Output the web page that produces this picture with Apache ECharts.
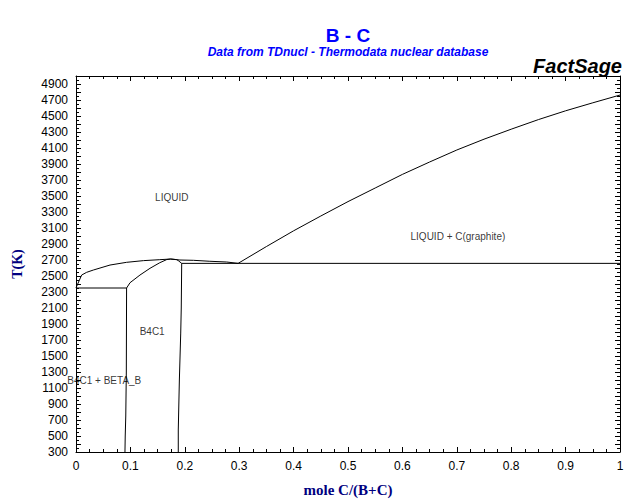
<!DOCTYPE html>
<html>
<head>
<meta charset="utf-8">
<script src="https://cdn.jsdelivr.net/npm/echarts@6/dist/echarts.min.js"></script>
<style>
html,body{margin:0;padding:0;background:#fff;}
#chart{width:640px;height:504px;}
</style>
</head>
<body>
<div id="chart"></div>
<script>
// ---- Data (mole fraction C, T in K) ----
var liquidusB = [[0,2350],[0.001,2367],[0.0104,2512],[0.0196,2546],[0.032,2575],[0.0625,2637],[0.093,2671],[0.124,2692],[0.154,2704],[0.174,2712],[0.191,2700],[0.216,2696],[0.246,2684],[0.277,2675],[0.298,2658]];
var liquidusC = [[0.298,2658],[0.35,2868],[0.40,3065],[0.45,3250],[0.50,3430],[0.55,3600],[0.60,3770],[0.65,3925],[0.70,4075],[0.75,4210],[0.80,4335],[0.85,4455],[0.90,4565],[0.95,4665],[1.0,4762]];
var solidusB4C_left = [[0.093,2350],[0.0993,2416],[0.1176,2512],[0.136,2596],[0.154,2666],[0.167,2706],[0.174,2712]];
var solidusB4C_right = [[0.174,2712],[0.185,2705],[0.188,2692],[0.1943,2658]];
var solvusLeft = [[0.093,2350],[0.0925,1300],[0.0915,750],[0.0905,500],[0.090,300]];
var solvusRight = [[0.1943,2658],[0.1935,2100],[0.1925,1787],[0.190,1200],[0.188,575],[0.188,300]];
var eutecticB = [[0,2350],[0.093,2350]];
var eutecticC = [[0.1943,2658],[1,2658]];
var phaseLabels = ['LIQUID','LIQUID + C(graphite)','B4C1','B4C1 + BETA_B'];
var phaseLabelX = [0.176,0.702,0.14,0.052];
var phaseLabelT = [3487,2990,1810,1190];
var xTickLabels = ['0','0.1','0.2','0.3','0.4','0.5','0.6','0.7','0.8','0.9','1'];

var chart = echarts.init(document.getElementById('chart'), null, {renderer:'svg'});

function lineSeries(d){
  return {type:'line', data:d, symbol:'none', showSymbol:false, silent:true,
    lineStyle:{color:'#000', width:1}, itemStyle:{color:'#000'}, animation:false, z:3};
}
var axisCommon = {
  axisLine:{show:true, onZero:false, lineStyle:{color:'#000', width:1}},
  axisTick:{show:true, inside:true, length:5, lineStyle:{color:'#000'}},
  minorTick:{show:true, length:3, lineStyle:{color:'#000'}},
  splitLine:{show:false}
};
var labelData = phaseLabels.map(function(t,i){return {name:t, value:[phaseLabelX[i], phaseLabelT[i]]};});

chart.setOption({
  animation:false,
  backgroundColor:'#fff',
  grid:{left:76, right:20, top:76, bottom:52, containLabel:false},
  graphic:[
    {type:'text', x:348, y:35, style:{text:'B - C', fill:'#0000ff', font:'bold 19px "Liberation Sans", Arial, sans-serif', textAlign:'center', textVerticalAlign:'middle'}},
    {type:'text', x:348, y:52, style:{text:'Data from TDnucl - Thermodata nuclear database', fill:'#0000ff', font:'italic bold 12px "Liberation Sans", Arial, sans-serif', textAlign:'center', textVerticalAlign:'middle'}},
    {type:'text', x:622, y:66, style:{text:'FactSage', fill:'#000', font:'italic bold 20px "Liberation Sans", Arial, sans-serif', textAlign:'right', textVerticalAlign:'middle'}}
  ],
  xAxis:[
    Object.assign({type:'value', min:0, max:1, interval:0.1, position:'bottom',
      name:'mole C/(B+C)', nameLocation:'middle', nameGap:30,
      nameTextStyle:{color:'#000080', fontFamily:'"Liberation Serif", "Times New Roman", serif', fontWeight:'bold', fontSize:15},
      axisLabel:{color:'#000', fontSize:12, fontFamily:'"Liberation Sans", Arial, sans-serif', margin:8,
        formatter:function(v){var i=Math.round(v*10); return xTickLabels[i];}}
    }, axisCommon, {minorTick:{show:true, splitNumber:4, length:3, lineStyle:{color:'#000'}}}),
    Object.assign({type:'value', min:0, max:1, interval:0.1, position:'top', axisLabel:{show:false}},
      axisCommon, {minorTick:{show:true, splitNumber:4, length:3, lineStyle:{color:'#000'}}})
  ],
  yAxis:[
    Object.assign({type:'value', min:300, max:5000, interval:100, position:'left',
      name:'T(K)', nameLocation:'middle', nameGap:52, nameRotate:90,
      nameTextStyle:{color:'#000080', fontFamily:'"Liberation Serif", "Times New Roman", serif', fontWeight:'bold', fontSize:14},
      axisLabel:{color:'#000', fontSize:12, fontFamily:'"Liberation Sans", Arial, sans-serif', margin:8, showMaxLabel:false,
        formatter:function(v){return ((Math.round(v)-300)%200===0 && v<5000) ? String(Math.round(v)) : '';}}
    }, axisCommon, {minorTick:{show:true, splitNumber:2, length:3, lineStyle:{color:'#000'}}}),
    Object.assign({type:'value', min:300, max:5000, interval:100, position:'right', axisLabel:{show:false}},
      axisCommon, {minorTick:{show:true, splitNumber:2, length:3, lineStyle:{color:'#000'}}})
  ],
  series:[
    lineSeries(liquidusB),
    lineSeries(liquidusC),
    lineSeries(solidusB4C_left),
    lineSeries(solidusB4C_right),
    lineSeries(solvusLeft),
    lineSeries(solvusRight),
    lineSeries(eutecticB),
    lineSeries(eutecticC),
    {type:'scatter', data:labelData, symbolSize:0, silent:true, animation:false,
      label:{show:true, position:'inside', formatter:'{b}', color:'#000', fontSize:10,
        fontFamily:'"Liberation Sans", Arial, sans-serif'}}
  ]
});
</script>
</body>
</html>
